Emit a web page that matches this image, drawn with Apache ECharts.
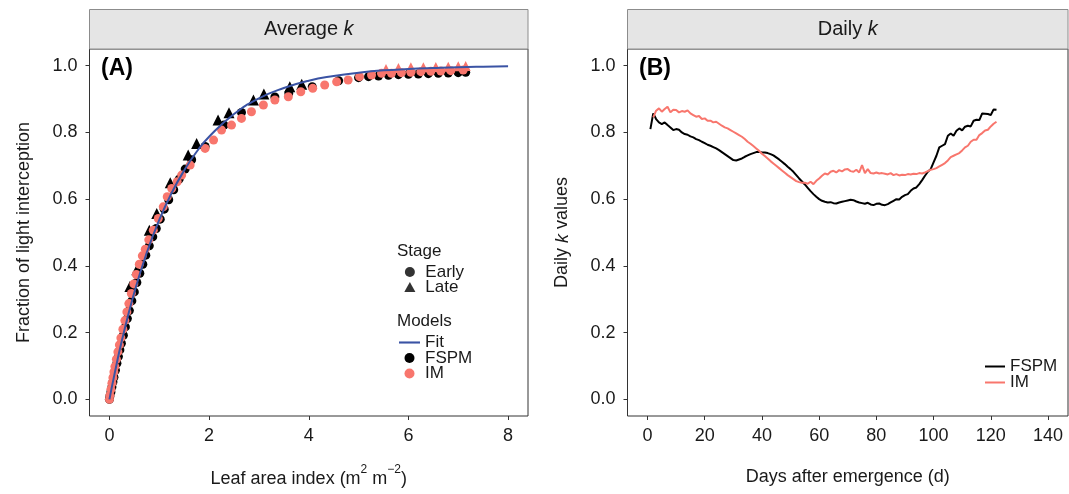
<!DOCTYPE html>
<html><head><meta charset="utf-8">
<script src="https://cdn.jsdelivr.net/npm/echarts@6/dist/echarts.min.js"></script>
<style>html,body{margin:0;padding:0;background:#fff}#c{width:1069px;height:494px}</style>
</head><body><div id="c"></div>
<script>
// ---- tick labels ----
const laiTicks = [0, 2, 4, 6, 8];
const fracTicks = [0, 0.2, 0.4, 0.6, 0.8, 1.0];
const dayTicks = [0, 20, 40, 60, 80, 100, 120, 140];

// ---- Panel A: fitted curve ----
const fitLAI  = [0, 0.1, 0.25, 0.5, 0.75, 1, 1.25, 1.5, 1.75, 2, 2.5, 3, 3.5, 4, 4.5, 5, 5.5, 6, 6.5, 7, 7.5, 8];
const fitFrac = [0, 0.074, 0.176, 0.321, 0.44, 0.538, 0.619, 0.686, 0.742, 0.787, 0.855, 0.902, 0.933, 0.955, 0.969, 0.979, 0.986, 0.990, 0.993, 0.9955, 0.997, 0.998];

// ---- Panel A: FSPM points ----
const fspmEarly = [[0,0],[0.01,0.01],[0.03,0.022],[0.05,0.037],[0.07,0.052],[0.09,0.066],[0.12,0.087],[0.15,0.108],[0.18,0.128],[0.21,0.148],[0.24,0.168],[0.28,0.192],[0.32,0.217],[0.36,0.242],[0.4,0.266],[0.45,0.295],[0.5,0.322],[0.55,0.35],[0.61,0.378],[0.67,0.405],[0.73,0.432],[0.8,0.46],[0.87,0.487],[0.94,0.512],[1.02,0.54],[1.1,0.57],[1.19,0.598],[1.29,0.628],[1.4,0.66],[1.52,0.69],[1.65,0.718],[1.92,0.758],[2.3,0.822],[2.65,0.86],[3.32,0.906],[3.6,0.918],[4.07,0.937],[4.6,0.955],[5.0,0.964],[5.2,0.967],[5.4,0.969],[5.6,0.971],[5.8,0.973],[6.0,0.974],[6.2,0.975],[6.4,0.976],[6.6,0.977],[6.8,0.978],[7.0,0.979],[7.15,0.98]];
const fspmLate = [[0.41,0.338],[0.55,0.388],[0.8,0.507],[0.95,0.557],[1.22,0.649],[1.58,0.732],[1.75,0.767],[2.18,0.837],[2.4,0.859],[2.89,0.897],[3.1,0.915],[3.62,0.937],[3.86,0.944]];

// ---- Panel A: IM points ----
const imEarly = [[0,0],[0.01,0.012],[0.03,0.03],[0.05,0.048],[0.07,0.065],[0.09,0.082],[0.11,0.098],[0.14,0.12],[0.17,0.142],[0.2,0.163],[0.23,0.184],[0.27,0.21],[0.31,0.236],[0.35,0.262],[0.39,0.287],[0.44,0.317],[0.49,0.346],[0.54,0.374],[0.6,0.405],[0.66,0.43],[0.72,0.45],[0.79,0.478],[0.88,0.507],[0.98,0.542],[1.08,0.577],[1.16,0.607],[1.25,0.632],[1.36,0.652],[1.45,0.672],[1.62,0.702],[1.92,0.752],[2.09,0.777],[2.25,0.807],[2.45,0.822],[2.65,0.842],[2.85,0.862],[3.09,0.882],[3.32,0.897],[3.59,0.907],[3.84,0.922],[4.08,0.932],[4.32,0.942],[4.56,0.952],[4.79,0.957],[5.02,0.967],[5.26,0.972],[5.46,0.977],[5.66,0.977],[5.86,0.979],[6.05,0.98],[6.25,0.982],[6.45,0.983],[6.65,0.984],[6.85,0.985],[7.1,0.987]];
const imLate = [[5.55,0.99],[5.8,0.993],[6.05,0.995],[6.3,0.995],[6.55,0.996],[6.8,0.997],[7.0,0.998],[7.15,0.999]];

// ---- Panel B: daily k ----
const fspmFirstDay = 1;
const dailyFSPM = [0.81,0.857,0.84,0.83,0.825,0.83,0.822,0.815,0.807,0.81,0.808,0.80,0.795,0.793,0.788,0.785,0.78,0.777,0.772,0.768,0.763,0.76,0.756,0.752,0.747,0.741,0.735,0.729,0.723,0.717,0.716,0.719,0.722,0.727,0.731,0.735,0.738,0.741,0.742,0.74,0.74,0.738,0.735,0.731,0.725,0.719,0.712,0.705,0.697,0.69,0.682,0.672,0.662,0.653,0.644,0.634,0.624,0.615,0.607,0.6,0.595,0.592,0.59,0.591,0.588,0.587,0.59,0.592,0.594,0.596,0.598,0.597,0.593,0.59,0.588,0.586,0.589,0.584,0.582,0.586,0.587,0.583,0.582,0.585,0.59,0.595,0.6,0.599,0.607,0.612,0.615,0.625,0.632,0.635,0.645,0.657,0.67,0.682,0.69,0.71,0.73,0.755,0.76,0.765,0.79,0.797,0.79,0.805,0.812,0.806,0.817,0.82,0.818,0.835,0.838,0.837,0.857,0.856,0.855,0.852,0.869,0.868];
const imFirstDay = 2;
const dailyIM = [0.845,0.865,0.872,0.862,0.87,0.877,0.86,0.868,0.867,0.86,0.864,0.862,0.866,0.857,0.852,0.847,0.849,0.84,0.842,0.835,0.835,0.83,0.832,0.826,0.82,0.815,0.812,0.807,0.802,0.797,0.792,0.787,0.78,0.772,0.766,0.759,0.752,0.745,0.736,0.729,0.722,0.714,0.707,0.7,0.693,0.686,0.679,0.672,0.666,0.66,0.654,0.651,0.649,0.649,0.646,0.652,0.645,0.655,0.662,0.67,0.677,0.674,0.682,0.685,0.68,0.687,0.683,0.689,0.69,0.684,0.682,0.688,0.68,0.702,0.678,0.69,0.678,0.677,0.68,0.677,0.678,0.676,0.674,0.678,0.672,0.675,0.671,0.673,0.672,0.675,0.674,0.676,0.675,0.678,0.677,0.68,0.684,0.688,0.69,0.693,0.698,0.703,0.708,0.716,0.726,0.73,0.734,0.738,0.746,0.755,0.76,0.772,0.778,0.778,0.792,0.798,0.806,0.808,0.818,0.826,0.832];

const FONT = 'Liberation Sans, Arial, Helvetica, sans-serif';
const TXT = '#1a1a1a';
const SALMON = '#F8766D';
const BLUE = '#3A53A4';
const LINE_ICON = 'path://M0,0 L20,0 L20,2 L0,2 Z';
const TRI_ICON = 'path://M5,0 L10,9 L0,9 Z';

const G0 = {left: 89.5, top: 49, width: 438.5, height: 367};
const G1 = {left: 627.5, top: 49, width: 440.5, height: 367};

function yAxisDef(gridIndex, name, rich) {
  return {
    type: 'value', gridIndex, min: -0.05, max: 1.05,
    splitLine: {show: false}, axisLine: {show: false, onZero: false},
    axisTick: {show: true, length: 4, lineStyle: {color: '#333'}, customValues: fracTicks},
    axisLabel: {customValues: fracTicks, formatter: v => v.toFixed(1), color: TXT, fontSize: 18, fontFamily: FONT, margin: 12},
    name, nameLocation: 'middle', nameGap: 56, nameMoveOverlap: false,
    nameTextStyle: {color: TXT, fontSize: 18, fontFamily: FONT, rich}
  };
}

const chart = echarts.init(document.getElementById('c'), null, {renderer: 'canvas'});
const option = {
  backgroundColor: '#fff',
  animation: false,
  grid: [
    Object.assign({show: true, borderColor: '#333', borderWidth: 1, backgroundColor: '#fff', containLabel: false, outerBoundsMode: 'none'}, G0),
    Object.assign({show: true, borderColor: '#333', borderWidth: 1, backgroundColor: '#fff', containLabel: false, outerBoundsMode: 'none'}, G1)
  ],
  xAxis: [
    {
      type: 'value', gridIndex: 0, min: -0.4, max: 8.4,
      splitLine: {show: false}, axisLine: {show: false, onZero: false},
      axisTick: {show: true, length: 4, lineStyle: {color: '#333'}, customValues: laiTicks},
      axisLabel: {customValues: laiTicks, color: TXT, fontSize: 18, fontFamily: FONT, margin: 11},
      name: '{t|Leaf area index (m}{s|2}{t| m}{s|−2}{t|)}',
      nameLocation: 'middle', nameGap: 48, nameMoveOverlap: false,
      nameTextStyle: {rich: {
        t: {fontSize: 18, fontFamily: FONT, color: TXT, lineHeight: 24, verticalAlign: 'bottom'},
        s: {fontSize: 12, fontFamily: FONT, color: TXT, lineHeight: 12, verticalAlign: 'top'}
      }}
    },
    {
      type: 'value', gridIndex: 1, min: -7, max: 147,
      splitLine: {show: false}, axisLine: {show: false, onZero: false},
      axisTick: {show: true, length: 4, lineStyle: {color: '#333'}, customValues: dayTicks},
      axisLabel: {customValues: dayTicks, color: TXT, fontSize: 18, fontFamily: FONT, margin: 11},
      name: 'Days after emergence (d)',
      nameLocation: 'middle', nameGap: 52, nameMoveOverlap: false,
      nameTextStyle: {color: TXT, fontSize: 18, fontFamily: FONT}
    }
  ],
  yAxis: [
    yAxisDef(0, 'Fraction of light interception'),
    yAxisDef(1, '{a|Daily }{b|k}{a| values}', {
      a: {fontSize: 18, fontFamily: FONT, color: TXT},
      b: {fontSize: 18, fontFamily: FONT, color: TXT, fontStyle: 'italic'}
    })
  ],
  legend: [
    {
      left: 404.3, top: 263.5, padding: 0, orient: 'vertical', itemGap: -2, itemWidth: 21, itemHeight: 10,
      selectedMode: false,
      textStyle: {fontSize: 17, fontFamily: FONT, color: TXT, lineHeight: 15},
      data: [{name: 'Early', icon: 'circle'}, {name: 'Late', icon: TRI_ICON}]
    },
    {
      left: 399, top: 334, padding: 0, orient: 'vertical', itemGap: -1.5, itemWidth: 21, itemHeight: 10,
      selectedMode: false,
      textStyle: {fontSize: 17, fontFamily: FONT, color: TXT, lineHeight: 15.5},
      data: [{name: 'Fit', icon: LINE_ICON}, {name: 'FSPM', icon: 'circle'}, {name: 'IM', icon: 'circle'}]
    },
    {
      left: 985, top: 358, padding: 0, orient: 'vertical', itemGap: -1, itemWidth: 20, itemHeight: 10,
      selectedMode: false,
      formatter: n => n.replace(' daily', ''),
      textStyle: {fontSize: 17, fontFamily: FONT, color: TXT, lineHeight: 16},
      data: [{name: 'FSPM daily', icon: LINE_ICON}, {name: 'IM daily', icon: LINE_ICON}]
    }
  ],
  graphic: [
    {type: 'rect', silent: true, shape: {x: G0.left, y: 9.5, width: G0.width, height: 39.5}, style: {fill: '#E5E5E5', stroke: '#8c8c8c', lineWidth: 1}},
    {type: 'rect', silent: true, shape: {x: G1.left, y: 9.5, width: G1.width, height: 39.5}, style: {fill: '#E5E5E5', stroke: '#8c8c8c', lineWidth: 1}},
    {type: 'text', silent: true, x: G0.left + G0.width / 2, y: 29.5, style: {
      text: '{a|Average }{b|k}', align: 'center', verticalAlign: 'middle',
      rich: {a: {fontSize: 20, fontFamily: FONT, fill: TXT}, b: {fontSize: 20, fontFamily: FONT, fill: TXT, fontStyle: 'italic'}}
    }},
    {type: 'text', silent: true, x: G1.left + G1.width / 2, y: 29.5, style: {
      text: '{a|Daily }{b|k}', align: 'center', verticalAlign: 'middle',
      rich: {a: {fontSize: 20, fontFamily: FONT, fill: TXT}, b: {fontSize: 20, fontFamily: FONT, fill: TXT, fontStyle: 'italic'}}
    }},
    {type: 'text', silent: true, x: 101, y: 69, style: {text: '(A)', font: 'bold 23px ' + FONT, fill: '#000', verticalAlign: 'middle'}},
    {type: 'text', silent: true, x: 639, y: 69, style: {text: '(B)', font: 'bold 23px ' + FONT, fill: '#000', verticalAlign: 'middle'}},
    {type: 'text', silent: true, x: 397, y: 251, style: {text: 'Stage', font: '17px ' + FONT, fill: TXT, verticalAlign: 'middle'}},
    {type: 'text', silent: true, x: 397, y: 321, style: {text: 'Models', font: '17px ' + FONT, fill: TXT, verticalAlign: 'middle'}}
  ],
  series: [
    {name: 'Early', type: 'scatter', xAxisIndex: 0, yAxisIndex: 0, symbol: 'circle', itemStyle: {color: '#000'}, data: []},
    {name: 'Late', type: 'scatter', xAxisIndex: 0, yAxisIndex: 0, symbol: 'triangle', itemStyle: {color: '#000'}, data: []},
    {
      name: 'FSPM', type: 'scatter', xAxisIndex: 0, yAxisIndex: 0, symbol: 'circle', symbolSize: 9,
      itemStyle: {color: '#000', opacity: 1},
      data: fspmEarly.map(p => ({value: p})).concat(fspmLate.map(p => ({value: p, symbol: 'triangle', symbolSize: 11})))
    },
    {
      name: 'IM', type: 'scatter', xAxisIndex: 0, yAxisIndex: 0, symbol: 'circle', symbolSize: 9,
      itemStyle: {color: SALMON, opacity: 1},
      data: imEarly.map(p => ({value: p})).concat(imLate.map(p => ({value: p, symbol: 'triangle', symbolSize: 10})))
    },
    {
      name: 'Fit', type: 'line', xAxisIndex: 0, yAxisIndex: 0, symbol: 'none', smooth: true,
      lineStyle: {color: BLUE, width: 2}, itemStyle: {color: BLUE},
      data: fitLAI.map((x, i) => [x, fitFrac[i]]), z: 5
    },
    {
      name: 'FSPM daily', type: 'line', xAxisIndex: 1, yAxisIndex: 1, symbol: 'none',
      lineStyle: {color: '#000', width: 2}, itemStyle: {color: '#000'},
      data: dailyFSPM.map((v, i) => [fspmFirstDay + i, v])
    },
    {
      name: 'IM daily', type: 'line', xAxisIndex: 1, yAxisIndex: 1, symbol: 'none',
      lineStyle: {color: SALMON, width: 2}, itemStyle: {color: SALMON},
      data: dailyIM.map((v, i) => [imFirstDay + i, v])
    }
  ]
};
chart.setOption(option);
</script>
</body></html>
